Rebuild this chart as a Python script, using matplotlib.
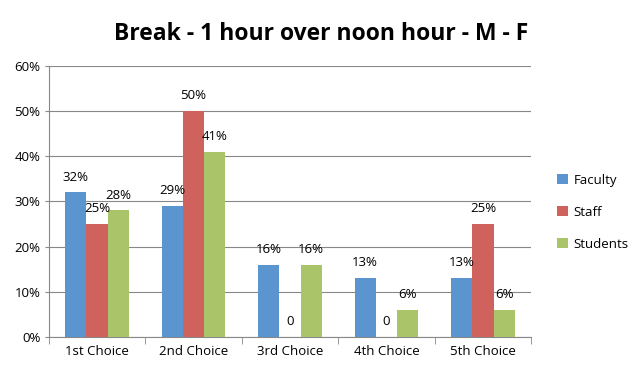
import matplotlib.pyplot as plt
import numpy as np

plt.rcParams['font.family'] = ['Open Sans', 'DejaVu Sans']

categories = ['1st Choice', '2nd Choice', '3rd Choice', '4th Choice', '5th Choice']
faculty = [32, 29, 16, 13, 13]
staff = [25, 50, 0, 0, 25]
students = [28, 41, 16, 6, 6]
series = [('Faculty', faculty, '#5B95CF'), ('Staff', staff, '#D0625D'), ('Students', students, '#AAC46A')]

fig = plt.figure(figsize=(6.43, 3.73), dpi=100)
ax = fig.add_axes([0.076, 0.0965, 0.75, 0.727])

x = np.arange(len(categories))
w = 0.22
for i, (name, vals, color) in enumerate(series):
    pos = x + (i - 1) * w
    ax.bar(pos, vals, w, color=color, label=name, zorder=3)
    for px, v in zip(pos, vals):
        txt = '0' if v == 0 else f'{v}%'
        ax.annotate(txt, (px, v), xytext=(0, 11), textcoords='offset points',
                    ha='center', va='center', fontsize=9.5, zorder=4)

ax.set_xlim(-0.5, len(categories) - 0.5)
ax.set_ylim(0, 60)
ax.set_yticks(range(0, 61, 10))
ax.set_yticklabels([f'{v}%' for v in range(0, 61, 10)], fontsize=9.5)
ax.set_xticks(x)
ax.set_xticklabels(categories, fontsize=9.5)
ax.set_xticks(np.arange(-0.5, len(categories), 1), minor=True)
ax.tick_params(axis='x', which='major', length=0, pad=6)
ax.tick_params(axis='x', which='minor', length=5, color='#888888')
ax.tick_params(axis='y', length=3, color='#888888', pad=3)
ax.grid(axis='y', color='#888888', linewidth=0.8, zorder=0)
for s in ['top', 'right']:
    ax.spines[s].set_visible(False)
for s in ['left', 'bottom']:
    ax.spines[s].set_color('#888888')

ax.legend(loc='center left', bbox_to_anchor=(1.03, 0.46), frameon=False, fontsize=9.5,
          handlelength=0.8, handleheight=0.8, labelspacing=1.45, handletextpad=0.4)

fig.text(0.5, 0.91, 'Break - 1 hour over noon hour - M - F', ha='center', va='center',
         fontsize=16.5, fontweight='bold')

fig.savefig('out.png', dpi=100)
